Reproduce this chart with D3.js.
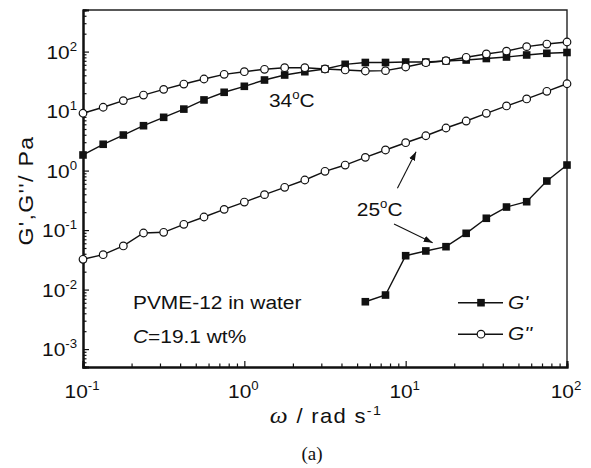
<!DOCTYPE html>
<html>
<head>
<meta charset="utf-8">
<script src="https://cdn.jsdelivr.net/npm/d3@7"></script>
<style>
  body { margin: 0; background: #fff; }
  text { font-family: "Liberation Sans", Arial, sans-serif; fill: #111; }
</style>
</head>
<body>
<div id="chart"></div>
<script>
// frequency points, 8 per decade from 0.1 to 100 rad/s
const omega = d3.range(25).map(i => Math.pow(10, -1 + i / 8));

// 34 C
const g1_34 = [1.83, 2.77, 3.96, 5.68, 7.86, 10.8, 15.4, 20.7, 26.1, 33.3, 40.4, 45.9, 51.0,
               61.1, 65.6, 65.6, 66.8, 66.8, 69.5, 72.2, 76.5, 81.1, 87.7, 93.6, 96.6];
const g2_34 = [9.2, 11.6, 15.0, 18.6, 23.2, 28.5, 34.6, 41.5, 45.9, 50.4, 53.6, 53.6, 51.0,
               49.1, 47.2, 47.8, 55.1, 65.0, 70.3, 80.2, 91.2, 102, 121, 134, 145];

// 25 C  (G' only measured from omega index 14)
const g1_25 = [null, null, null, null, null, null, null, null, null, null, null, null, null, null,
               0.00625, 0.0081, 0.0371, 0.0446, 0.0526, 0.0883, 0.158, 0.244, 0.300, 0.668, 1.24];
const g2_25 = [0.0323, 0.0386, 0.0541, 0.0893, 0.0918, 0.125, 0.166, 0.223, 0.296, 0.394, 0.524,
               0.695, 0.973, 1.24, 1.67, 2.22, 2.94, 3.85, 5.2, 6.81, 9.18, 12.2, 16.0, 21.5, 28.8];

const xTicks = [-1, 0, 1, 2];
const yTicks = [-3, -2, -1, 0, 1, 2];

const margin = {top: 10, right: 24, bottom: 101, left: 83},
    width = 591 - margin.left - margin.right,
    height = 468 - margin.top - margin.bottom;

const svg = d3.select("#chart")
  .append("svg")
    .attr("width", 591)
    .attr("height", 468)
  .append("g")
    .attr("transform", `translate(${margin.left}, ${margin.top})`);

const x = d3.scaleLog().domain([0.1, 100]).range([0, width]);
const y = d3.scaleLog().domain([5e-4, 5e2]).range([height, 0]);

// text is a little wider than Arial in the original, so stretch it a bit
const SX = 1.1;
function label(px, py, size) {
  return svg.append("text")
    .attr("transform", `translate(${px},${py}) scale(${SX},1)`)
    .style("font-size", size + "px");
}

// minor tick values for log axes
function minors(dom) {
  let out = [];
  for (let e = -4; e <= 3; e++)
    for (let m = 2; m <= 9; m++) {
      const v = m * Math.pow(10, e);
      if (v >= dom[0] && v <= dom[1]) out.push(v);
    }
  return out;
}
const majX = xTicks.map(e => Math.pow(10, e)), majY = yTicks.map(e => Math.pow(10, e));

// frame (top + right)
svg.append("path")
  .attr("d", `M0,0H${width}V${height}`)
  .attr("fill", "none").attr("stroke", "#222").attr("stroke-width", 1.4);

// axes, ticks inside
const gx = svg.append("g").attr("transform", `translate(0,${height})`);
gx.append("g").call(d3.axisBottom(x).tickValues(majX).tickSize(-6).tickFormat(""));
gx.append("g").call(d3.axisBottom(x).tickValues(minors(x.domain())).tickSize(-3.5).tickFormat(""));
const gy = svg.append("g");
gy.append("g").call(d3.axisLeft(y).tickValues(majY).tickSize(-6).tickFormat(""));
gy.append("g").call(d3.axisLeft(y).tickValues(minors(y.domain())).tickSize(-3.5).tickFormat(""));
svg.selectAll(".domain").attr("stroke", "#111").attr("stroke-width", 2);
svg.selectAll(".tick line").attr("stroke", "#111").attr("stroke-width", 1.2);

// tick labels 10^n
xTicks.forEach(e => {
  const t = label(x(Math.pow(10, e)) - 1, height + 31, 19)
    .attr("text-anchor", "middle")
    .text("10");
  t.append("tspan").attr("dy", -8).style("font-size", "12px").text(e);
});
yTicks.forEach(e => {
  const t = label(-6, y(Math.pow(10, e)) + 7, 19)
    .attr("text-anchor", "end")
    .text("10");
  t.append("tspan").attr("dy", -8).style("font-size", "12px").text(e);
});

// axis titles
const xt = label(width / 2 + 1, height + 56, 20)
  .attr("text-anchor", "middle")
  .style("letter-spacing", "1.2px");
xt.append("tspan").style("font-family", "'Liberation Serif', serif").style("font-style", "italic").style("font-size", "23px").text("ω");
xt.append("tspan").text(" / rad s");
xt.append("tspan").attr("dy", -8).style("font-size", "13px").text("-1");

svg.append("text")
  .attr("transform", `translate(${-50},${height / 2 + 2}) rotate(-90) scale(${SX},1)`)
  .attr("text-anchor", "middle")
  .style("font-size", "21px")
  .style("letter-spacing", "1.2px")
  .text("G',G''/ Pa");

svg.append("text")
  .attr("x", width / 2 - 13)
  .attr("y", height + 93)
  .attr("text-anchor", "middle")
  .style("font-family", "'Liberation Serif', serif")
  .style("font-size", "19px")
  .text("(a)");

// series
const line = d3.line()
  .defined(d => d[1] != null)
  .x(d => x(d[0]))
  .y(d => y(d[1]));

const series = [
  {vals: g1_34, sym: "square"},
  {vals: g2_34, sym: "circle"},
  {vals: g2_25, sym: "circle"},
  {vals: g1_25, sym: "square"}
];

function drawMarkers(g, pts, sym) {
  if (sym === "square") {
    g.selectAll("rect").data(pts).enter().append("rect")
      .attr("x", d => x(d[0]) - 3.8)
      .attr("y", d => y(d[1]) - 3.8)
      .attr("width", 7.6).attr("height", 7.6)
      .attr("fill", "#111");
  } else {
    g.selectAll("circle").data(pts).enter().append("circle")
      .attr("cx", d => x(d[0]))
      .attr("cy", d => y(d[1]))
      .attr("r", 3.8)
      .attr("fill", "#fff").attr("stroke", "#111").attr("stroke-width", 1.2);
  }
}

series.forEach(s => {
  const pts = omega.map((w, i) => [w, s.vals[i]]);
  const g = svg.append("g");
  g.append("path").datum(pts)
    .attr("d", line)
    .attr("fill", "none").attr("stroke", "#111").attr("stroke-width", 1.4);
  drawMarkers(g, pts.filter(d => d[1] != null), s.sym);
});

// annotations
function degLabel(txt, px, py) {
  const t = label(x(px), y(py) + 1, 19).text(txt);
  t.append("tspan").attr("dy", -8).style("font-size", "12px").text("o");
  t.append("tspan").attr("dy", 8).text("C");
}
degLabel("34", 1.42, 12.2);
degLabel("25", 4.98, 0.179);

svg.append("defs").append("marker")
  .attr("id", "ah").attr("viewBox", "0 0 10 10")
  .attr("refX", 10).attr("refY", 5)
  .attr("markerWidth", 9).attr("markerHeight", 9)
  .attr("markerUnits", "userSpaceOnUse")
  .attr("orient", "auto")
  .append("path").attr("d", "M0,1.5L10,5L0,8.5z").attr("fill", "#111");

const arrows = [
  [[8.89, 0.504], [11.6, 2.08]],
  [[8.47, 0.126], [14.7, 0.0614]]
];
arrows.forEach(a => {
  svg.append("line")
    .attr("x1", x(a[0][0])).attr("y1", y(a[0][1]))
    .attr("x2", x(a[1][0])).attr("y2", y(a[1][1]))
    .attr("stroke", "#111").attr("stroke-width", 1.1)
    .attr("marker-end", "url(#ah)");
});

// sample text
label(50, 299, 19).text("PVME-12 in water");
const ct = label(50, 333, 19);
ct.append("tspan").style("font-style", "italic").text("C");
ct.append("tspan").text("=19.1 wt%");

// legend
const legend = [{label: "G'", sym: "square"}, {label: "G''", sym: "circle"}];
legend.forEach((l, i) => {
  const ly = 292.7 + i * 31.5;
  const g = svg.append("g");
  g.append("line").attr("x1", 375).attr("x2", 420).attr("y1", ly).attr("y2", ly)
    .attr("stroke", "#111").attr("stroke-width", 1.4);
  if (l.sym === "square")
    g.append("rect").attr("x", 398 - 3.8).attr("y", ly - 3.8).attr("width", 7.6).attr("height", 7.6).attr("fill", "#111");
  else
    g.append("circle").attr("cx", 398).attr("cy", ly).attr("r", 3.8)
      .attr("fill", "#fff").attr("stroke", "#111").attr("stroke-width", 1.2);
  label(425, ly + 6, 19).style("font-style", "italic").text(l.label);
});
</script>
</body>
</html>
